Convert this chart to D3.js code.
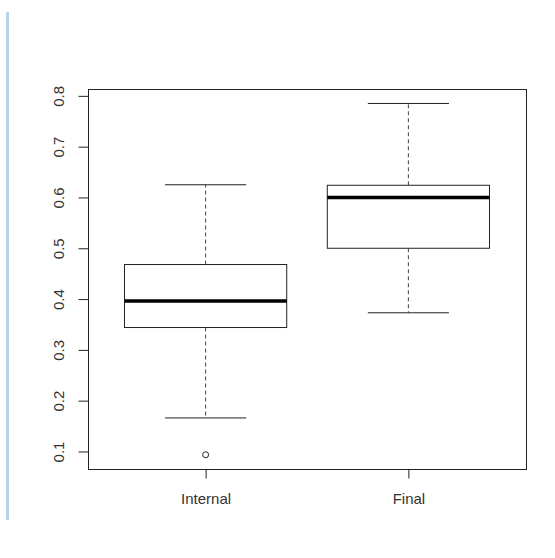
<!DOCTYPE html>
<html>
<head>
<meta charset="utf-8">
<script src="https://cdn.jsdelivr.net/npm/d3@7"></script>
<style>
  body { margin: 0; background: #fff; }
  svg { display: block; font-family: "Liberation Sans", Arial, sans-serif; }
</style>
</head>
<body>
<svg id="chart"></svg>
<script>
// values
const categories = ['Internal', 'Final']
const lowerWhisker = [0.166, 0.373]
const q1 = [0.344, 0.500]
const median = [0.396, 0.600]
const q3 = [0.468, 0.624]
const upperWhisker = [0.625, 0.785]
const outliers = [[0.0935], []]
const yTicks = [0.1, 0.2, 0.3, 0.4, 0.5, 0.6, 0.7, 0.8]

const width = 555, height = 558
const plot = {left: 88, right: 526, top: 89, bottom: 469}

const svg = d3.select('#chart')
    .attr('width', width)
    .attr('height', height)

// light blue strip on the left side
svg.append('rect')
    .attr('x', 6).attr('y', 12)
    .attr('width', 3).attr('height', 508)
    .attr('fill', '#b9d1ea')

const data = categories.map((c, i) => ({
    name: c, pos: i + 1,
    lo: lowerWhisker[i], q1: q1[i], med: median[i], q3: q3[i], hi: upperWhisker[i],
    out: outliers[i]
}))

// R pads the range by 4%
const x = d3.scaleLinear()
    .domain([0.42, 2.58])
    .range([plot.left, plot.right])

const y = d3.scaleLinear()
    .domain([0.0655, 0.8135])
    .range([plot.bottom, plot.top])

const ink = '#222'
const boxW = 0.8, capW = 0.4

const g = svg.append('g')

// dashed whiskers
g.selectAll('.whisk-up').data(data).join('line')
    .attr('x1', d => x(d.pos)).attr('x2', d => x(d.pos))
    .attr('y1', d => y(d.q3)).attr('y2', d => y(d.hi))
    .attr('stroke', '#444').attr('stroke-dasharray', '4,3')
g.selectAll('.whisk-lo').data(data).join('line')
    .attr('x1', d => x(d.pos)).attr('x2', d => x(d.pos))
    .attr('y1', d => y(d.q1)).attr('y2', d => y(d.lo))
    .attr('stroke', '#444').attr('stroke-dasharray', '4,3')

// caps
g.selectAll('.cap-hi').data(data).join('line')
    .attr('x1', d => x(d.pos - capW / 2)).attr('x2', d => x(d.pos + capW / 2))
    .attr('y1', d => y(d.hi)).attr('y2', d => y(d.hi))
    .attr('stroke', ink)
g.selectAll('.cap-lo').data(data).join('line')
    .attr('x1', d => x(d.pos - capW / 2)).attr('x2', d => x(d.pos + capW / 2))
    .attr('y1', d => y(d.lo)).attr('y2', d => y(d.lo))
    .attr('stroke', ink)

// boxes
g.selectAll('rect.box').data(data).join('rect')
    .attr('class', 'box')
    .attr('x', d => x(d.pos - boxW / 2))
    .attr('y', d => y(d.q3))
    .attr('width', d => x(d.pos + boxW / 2) - x(d.pos - boxW / 2))
    .attr('height', d => y(d.q1) - y(d.q3))
    .attr('fill', '#fff')
    .attr('stroke', ink)

// medians
g.selectAll('.med').data(data).join('line')
    .attr('x1', d => x(d.pos - boxW / 2)).attr('x2', d => x(d.pos + boxW / 2))
    .attr('y1', d => y(d.med)).attr('y2', d => y(d.med))
    .attr('stroke', '#000').attr('stroke-width', 3.5)

// outliers
data.forEach(d => {
    g.selectAll(null).data(d.out).join('circle')
        .attr('cx', x(d.pos))
        .attr('cy', v => y(v))
        .attr('r', 3)
        .attr('fill', 'none')
        .attr('stroke', ink)
})

// frame
svg.append('rect')
    .attr('x', plot.left + 0.5).attr('y', plot.top + 0.5)
    .attr('width', plot.right - plot.left).attr('height', plot.bottom - plot.top)
    .attr('fill', 'none').attr('stroke', ink)

// y axis
const yAxis = svg.append('g')
    .attr('transform', 'translate(' + (plot.left + 0.5) + ',0)')
    .call(d3.axisLeft(y).tickValues(yTicks).tickFormat(d3.format('.1f')).tickSize(10))
yAxis.select('.domain').remove()
yAxis.selectAll('.tick line').attr('stroke', ink)
yAxis.selectAll('.tick text')
    .attr('x', 0).attr('dy', 0)
    .attr('transform', 'translate(-28,0) rotate(-90)')
    .attr('text-anchor', 'middle')
    .attr('dominant-baseline', 'middle')
    .attr('font-size', 15)
    .attr('fill', '#333')

// x axis
const xAxis = svg.append('g')
    .attr('transform', 'translate(0,' + (plot.bottom + 0.5) + ')')
    .call(d3.axisBottom(x).tickValues(data.map(d => d.pos))
        .tickFormat((d, i) => categories[i]).tickSize(9))
xAxis.select('.domain').remove()
xAxis.selectAll('.tick line').attr('stroke', ink)
xAxis.selectAll('.tick text')
    .attr('y', 0).attr('dy', 0)
    .attr('transform', 'translate(0,34)')
    .attr('font-size', 15)
    .attr('fill', '#333')
</script>
</body>
</html>
